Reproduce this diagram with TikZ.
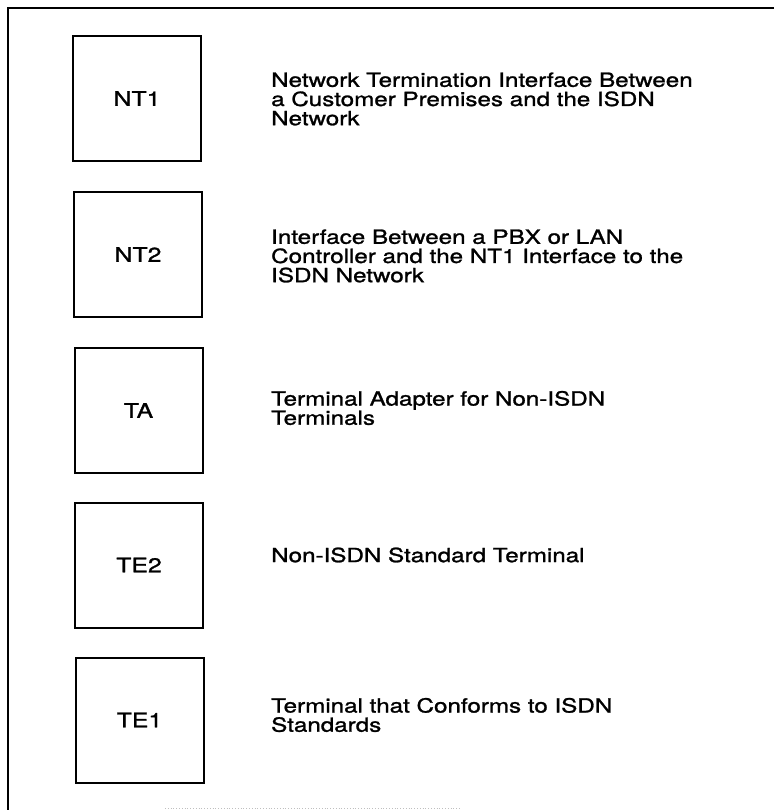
\documentclass[tikz,border=0pt]{standalone}
\usepackage{fontspec}
\setmainfont{TeX Gyre Heros}[FakeStretch=1.24,FakeBold=1.3]
\newcommand{\descfont}{\fontsize{19.5}{19.2}\selectfont\lineskiplimit=-20pt\relax}
\begin{document}
\begin{tikzpicture}[x=1pt,y=-1pt,
  unitbox/.style={draw=black,line width=2pt,minimum width=128pt,minimum height=125pt,inner sep=0pt,
    font=\fontsize{20}{20}\selectfont},
  desc/.style={anchor=west,inner sep=0pt,align=left,font=\descfont}]
\useasboundingbox (0,0) rectangle (774,810);
% outer frame (open at right and bottom)
\coordinate (fr1) at (774,8);
\coordinate (fr2) at (8,8);
\coordinate (fr3) at (8,810);
\draw[line width=2pt] (fr1) -- (fr2) -- (fr3);
\coordinate (bt1) at (165,808);
\coordinate (bt2) at (460,808);
\draw[black!25,line width=0.8pt,dotted] (bt1) -- (bt2);
% boxes
\node[unitbox] (nt1) at (137,98.5) {NT1};
\node[unitbox] (nt2) at (138,254.5) {NT2};
\node[unitbox] (ta)  at (138.5,410.5) {TA};
\node[unitbox] (te2) at (139,565) {TE2};
\node[unitbox] (te1) at (139.5,720) {TE1};
% descriptions
\node[desc] (d1) at (271,99) {Network Termination Interface Between\\a Customer Premises and the ISDN\\Network};
\node[desc] (d2) at (271,256) {Interface Between a PBX or LAN\\Controller and the NT1 Interface to the\\ISDN Network};
\node[desc] (d3) at (271,408) {Terminal Adapter for Non-ISDN\\Terminals};
\node[desc] (d4) at (271,555) {Non-ISDN Standard Terminal};
\node[desc] (d5) at (271,715) {Terminal that Conforms to ISDN\\Standards};
\end{tikzpicture}
\end{document}
